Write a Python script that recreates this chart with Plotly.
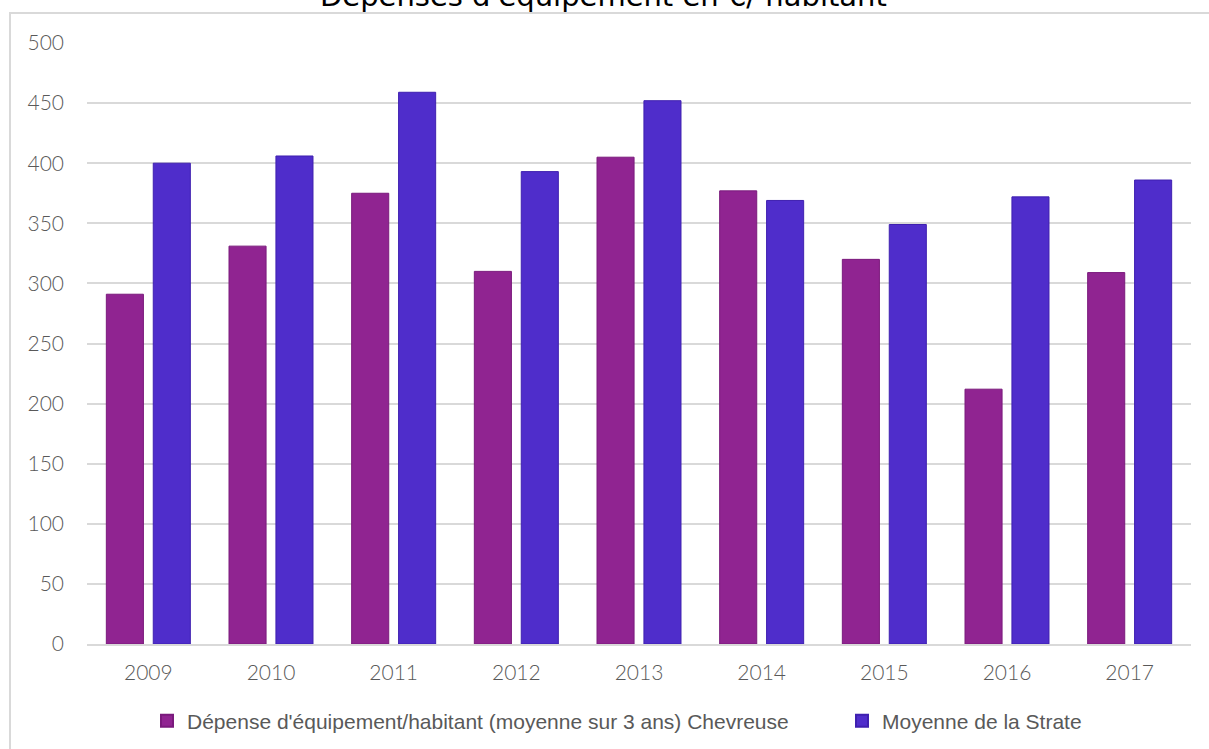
import plotly.graph_objects as go

years = ["2009", "2010", "2011", "2012", "2013", "2014", "2015", "2016", "2017"]
chevreuse = [291, 331, 375, 310, 405, 377, 320, 212, 309]
strate = [400, 406, 459, 393, 452, 369, 349, 372, 386]

name_chevreuse = "Dépense d'équipement/habitant (moyenne sur 3 ans) Chevreuse"
name_strate = "Moyenne de la Strate"
title_text = "Dépenses d'équipement en €/ habitant"

W, H = 1209, 749
ML, MR, MT, MB = 87, 18, 43, 105
PW, PH = W - ML - MR, H - MT - MB

purple = "#902491"
blue = "#4F2DCB"

fig = go.Figure()
fig.add_trace(go.Bar(
    x=years, y=chevreuse, name=name_chevreuse, legend="legend",
    marker=dict(color=purple, line=dict(color="#7A1A7C", width=1)),
))
fig.add_trace(go.Bar(
    x=years, y=strate, name=name_strate, legend="legend2",
    marker=dict(color=blue, line=dict(color="#3F20B0", width=1)),
))

# one legend box per series, so the spacing between entries can be set freely
legend_style = dict(
    orientation="h", xref="container", yref="container",
    xanchor="left", y=1 - 721 / H, yanchor="middle",
    font=dict(family="Liberation Sans", size=21, color="#595959"),
    itemsizing="constant", bgcolor="rgba(0,0,0,0)",
)

fig.update_layout(
    width=W, height=H,
    margin=dict(l=ML, r=MR, t=MT, b=MB, autoexpand=False),
    paper_bgcolor="white", plot_bgcolor="white",
    barmode="group", bargap=0.235, bargroupgap=0.21,
    font=dict(family="Lato", color="#595959"),
    showlegend=True,
    legend=dict(legend_style, x=147 / W),
    legend2=dict(legend_style, x=842 / W),
    xaxis=dict(
        showgrid=False, showline=True, linecolor="#D9D9D9", linewidth=2,
        tickfont=dict(family="Lato", size=21, color="#595959", weight=300),
        ticks="", ticklabelstandoff=9,
    ),
    yaxis=dict(
        range=[0, 500], dtick=50, showgrid=True, gridcolor="#D9D9D9", gridwidth=1.5,
        zeroline=False, showline=False,
        tickfont=dict(family="Lato", size=21, color="#595959", weight=300),
        ticks="", ticklabelstandoff=22,
    ),
    shapes=[dict(
        type="rect", xref="paper", yref="paper",
        x0=(10 - ML) / PW, x1=(W + 5 - ML) / PW,
        y0=-(H + 10 - MT - PH) / PH, y1=1 + (MT - 13) / PH,
        line=dict(color="#D9D9D9", width=2), fillcolor="rgba(0,0,0,0)", layer="below",
    )],
    annotations=[dict(
        text=title_text, xref="paper", yref="paper",
        x=(603 - ML) / PW, y=1 + (MT + 4) / PH,
        xanchor="center", yanchor="middle", showarrow=False,
        font=dict(family="DejaVu Sans", size=29, color="black"),
    )],
)

fig.write_html("out.html")
